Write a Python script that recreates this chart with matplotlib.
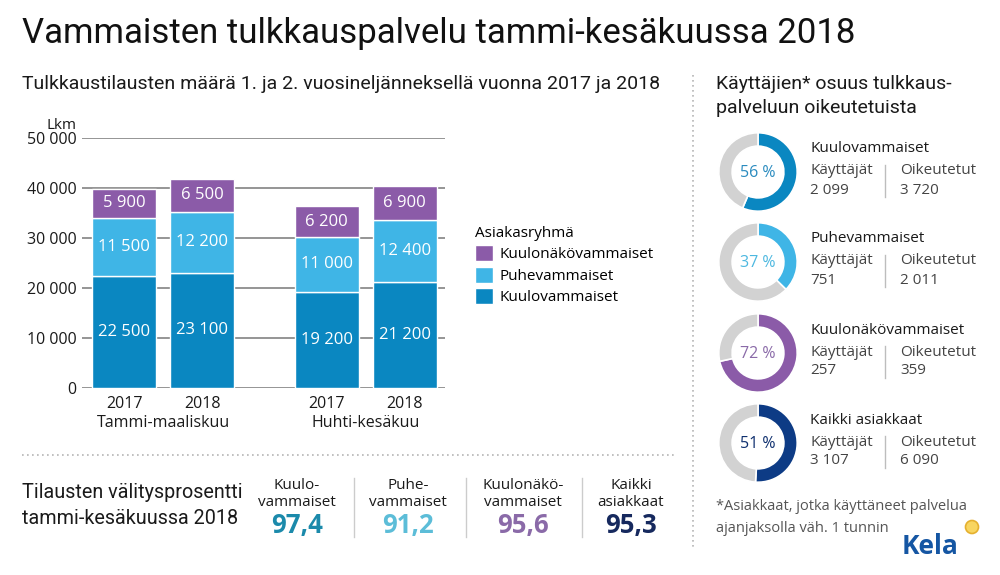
import matplotlib
matplotlib.use("Agg")
import matplotlib.pyplot as plt
from matplotlib.lines import Line2D
from matplotlib.patches import Circle
import numpy as np

# ---------------- data ----------------
periods = ["Tammi-maaliskuu", "Huhti-kesäkuu"]
years = ["2017", "2018", "2017", "2018"]
kuulo = [22500, 23100, 19200, 21200]
puhe = [11500, 12200, 11000, 12400]
kuulonako = [5900, 6500, 6200, 6900]
series_names = ["Kuulovammaiset", "Puhevammaiset", "Kuulonäkövammaiset"]
y_ticks = [0, 10000, 20000, 30000, 40000, 50000]
y_ticklabels = ["0", "10 000", "20 000", "30 000", "40 000", "50 000"]

donut_groups = ["Kuulovammaiset", "Puhevammaiset", "Kuulonäkövammaiset", "Kaikki asiakkaat"]
users = [2099, 751, 257, 3107]
eligible = [3720, 2011, 359, 6090]
users_lbl = ["2 099", "751", "257", "3 107"]
eligible_lbl = ["3 720", "2 011", "359", "6 090"]

rate_groups = ["Kuulo-\nvammaiset", "Puhe-\nvammaiset", "Kuulonäkö-\nvammaiset", "Kaikki\nasiakkaat"]
rates = [97.4, 91.2, 95.6, 95.3]

# ---------------- style ----------------
C_KUULO = "#0a87c1"
C_PUHE = "#3fb5e6"
C_KN = "#8b5ba8"
C_ALL = "#0d3b85"
C_GRAY = "#d2d2d2"
rate_colors = ["#1b8aab", "#5cbdd8", "#8a6aa8", "#16295e"]
pct_colors = ["#2a8bbf", "#4db8e0", "#8a6aa8", "#0e2f6e"]
donut_colors = [C_KUULO, C_PUHE, C_KN, C_ALL]

TITLE = "Roboto"
HEAD = "Roboto"
BODY = "Open Sans"
TXT = "#1a1a1a"

W, H = 1000, 575
fig = plt.figure(figsize=(10, 5.75), dpi=100)
fig.patch.set_facecolor("white")


def fx(x):
    return x / W


def fy(y):
    return 1 - y / H


def ptext(x, y, s, **kw):
    kw.setdefault("color", TXT)
    kw.setdefault("family", BODY)
    return fig.text(fx(x), fy(y), s, **kw)


# titles
ptext(22, 34, "Vammaisten tulkkauspalvelu tammi-kesäkuussa 2018", fontsize=25,
      family=TITLE, va="center", color="#111111")
ptext(22, 84, "Tulkkaustilausten määrä 1. ja 2. vuosineljänneksellä vuonna 2017 ja 2018",
      fontsize=14, family=HEAD, va="center")
ptext(716, 84, "Käyttäjien* osuus tulkkaus-", fontsize=14, family=HEAD, va="center")
ptext(716, 108, "palveluun oikeutetuista", fontsize=14, family=HEAD, va="center")

# ---------------- bar chart ----------------
ax = fig.add_axes([fx(82), fy(388), fx(445 - 82), (388 - 138) / H])
pos = np.array([0, 1, 2.6, 3.6])
bw = 0.82
b1 = ax.bar(pos, kuulo, bw, color=C_KUULO, edgecolor="white", linewidth=1, zorder=3)
b2 = ax.bar(pos, puhe, bw, bottom=kuulo, color=C_PUHE, edgecolor="white", linewidth=1, zorder=3)
bottom3 = np.array(kuulo) + np.array(puhe)
b3 = ax.bar(pos, kuulonako, bw, bottom=bottom3, color=C_KN, edgecolor="white", linewidth=1, zorder=3)
for bars, vals, bots in ((b1, kuulo, [0] * 4), (b2, puhe, kuulo), (b3, kuulonako, bottom3)):
    for p, v, b in zip(pos, vals, bots):
        ax.text(p, b + v / 2, f"{v:,}".replace(",", " "), ha="center", va="center",
                color="white", fontsize=12, family=BODY, zorder=4)
ax.set_xlim(-0.54, 4.115)
ax.set_ylim(0, 50000)
ax.set_yticks(y_ticks)
ax.set_yticklabels(y_ticklabels, family=BODY, fontsize=11.5, color=TXT)
ax.set_xticks(pos)
ax.set_xticklabels(years, family=BODY, fontsize=11.5, color=TXT)
ax.tick_params(length=0, pad=4)
ax.tick_params(axis="x", pad=6)
for s in ax.spines.values():
    s.set_visible(False)
ax.yaxis.grid(True, color="#8c8c8c", linewidth=1.3, zorder=0)
ax.set_axisbelow(True)
# group labels
for i, name in enumerate(periods):
    xc = pos[2 * i:2 * i + 2].mean()
    ax.text(xc, -0.14, name, transform=ax.get_xaxis_transform(), ha="center", va="center",
            family=BODY, fontsize=11.5, color=TXT)
ptext(61, 126, "Lkm", fontsize=11, ha="center", va="center")

leg = fig.legend([b3, b2, b1], series_names[::-1], title="Asiakasryhmä",
                 loc="upper left", bbox_to_anchor=(fx(461), fy(212)), frameon=False,
                 prop={"family": BODY, "size": 11}, handlelength=1.2, handleheight=1.2,
                 handletextpad=0.45, labelspacing=0.3, alignment="left")
leg.get_title().set_fontfamily(BODY)
leg.get_title().set_fontsize(11)

# ---------------- separators ----------------
fig.add_artist(Line2D([fx(693), fx(693)], [fy(75), fy(548)], color="#b5b5b5",
                      linewidth=1.2, linestyle=(0, (1, 2))))
fig.add_artist(Line2D([fx(22), fx(675)], [fy(455), fy(455)], color="#b5b5b5",
                      linewidth=1.2, linestyle=(0, (1, 2))))

# ---------------- donuts ----------------
centers_y = [172, 262, 353, 443]
R = 40
for i, cy in enumerate(centers_y):
    dax = fig.add_axes([fx(758 - R), fy(cy + R), 2 * R / W, 2 * R / H])
    frac = users[i] / eligible[i]
    dax.pie([frac, 1 - frac], colors=[donut_colors[i], C_GRAY], startangle=90,
            counterclock=False, radius=1,
            wedgeprops=dict(width=0.34, edgecolor="white", linewidth=1.2))
    dax.set_xlim(-1.02, 1.02)
    dax.set_ylim(-1.02, 1.02)
    dax.set_aspect("equal")
    dax.axis("off")
    ptext(758, cy + 1, f"{round(frac * 100)} %", fontsize=11.5, ha="center", va="center",
          color=pct_colors[i])
    ptext(810, cy - 23, donut_groups[i], fontsize=11, va="center")
    ptext(810, cy - 1, "Käyttäjät", fontsize=11, va="center", color="#444444")
    ptext(810, cy + 18, users_lbl[i], fontsize=11, va="center", color="#444444")
    ptext(900, cy - 1, "Oikeutetut", fontsize=11, va="center", color="#444444")
    ptext(900, cy + 18, eligible_lbl[i], fontsize=11, va="center", color="#444444")
    fig.add_artist(Line2D([fx(885), fx(885)], [fy(cy - 7), fy(cy + 25)], color="#bdbdbd",
                          linewidth=1))

ptext(716, 507, "*Asiakkaat, jotka käyttäneet palvelua", fontsize=10.5, va="center",
      color="#555555")
ptext(716, 528, "ajanjaksolla väh. 1 tunnin", fontsize=10.5, va="center", color="#555555")

# Kela logo
ptext(902, 546, "Kela", fontsize=19, fontweight="bold", va="center", color="#1556a3")
fig.add_artist(Circle((9.72, (H - 527) / 100), 0.065, transform=fig.dpi_scale_trans,
                      facecolor="#f8d560", edgecolor="#e5b02e", linewidth=1.2))

# ---------------- bottom rates ----------------
ptext(22, 493, "Tilausten välitysprosentti", fontsize=14.2, family=HEAD, va="center")
ptext(22, 518, "tammi-kesäkuussa 2018", fontsize=14.2, family=HEAD, va="center")
rate_x = [297, 408, 523, 631]
for i, x in enumerate(rate_x):
    ptext(x, 494, rate_groups[i], fontsize=11, ha="center", va="center",
          linespacing=1.1)
    ptext(x, 526, f"{rates[i]:.1f}".replace(".", ","), fontsize=18.5, fontweight="bold",
          ha="center", va="center", color=rate_colors[i])
for x in [354, 466, 582]:
    fig.add_artist(Line2D([fx(x), fx(x)], [fy(478), fy(537)], color="#cccccc", linewidth=1))

fig.savefig("out.png", dpi=100, facecolor="white")
